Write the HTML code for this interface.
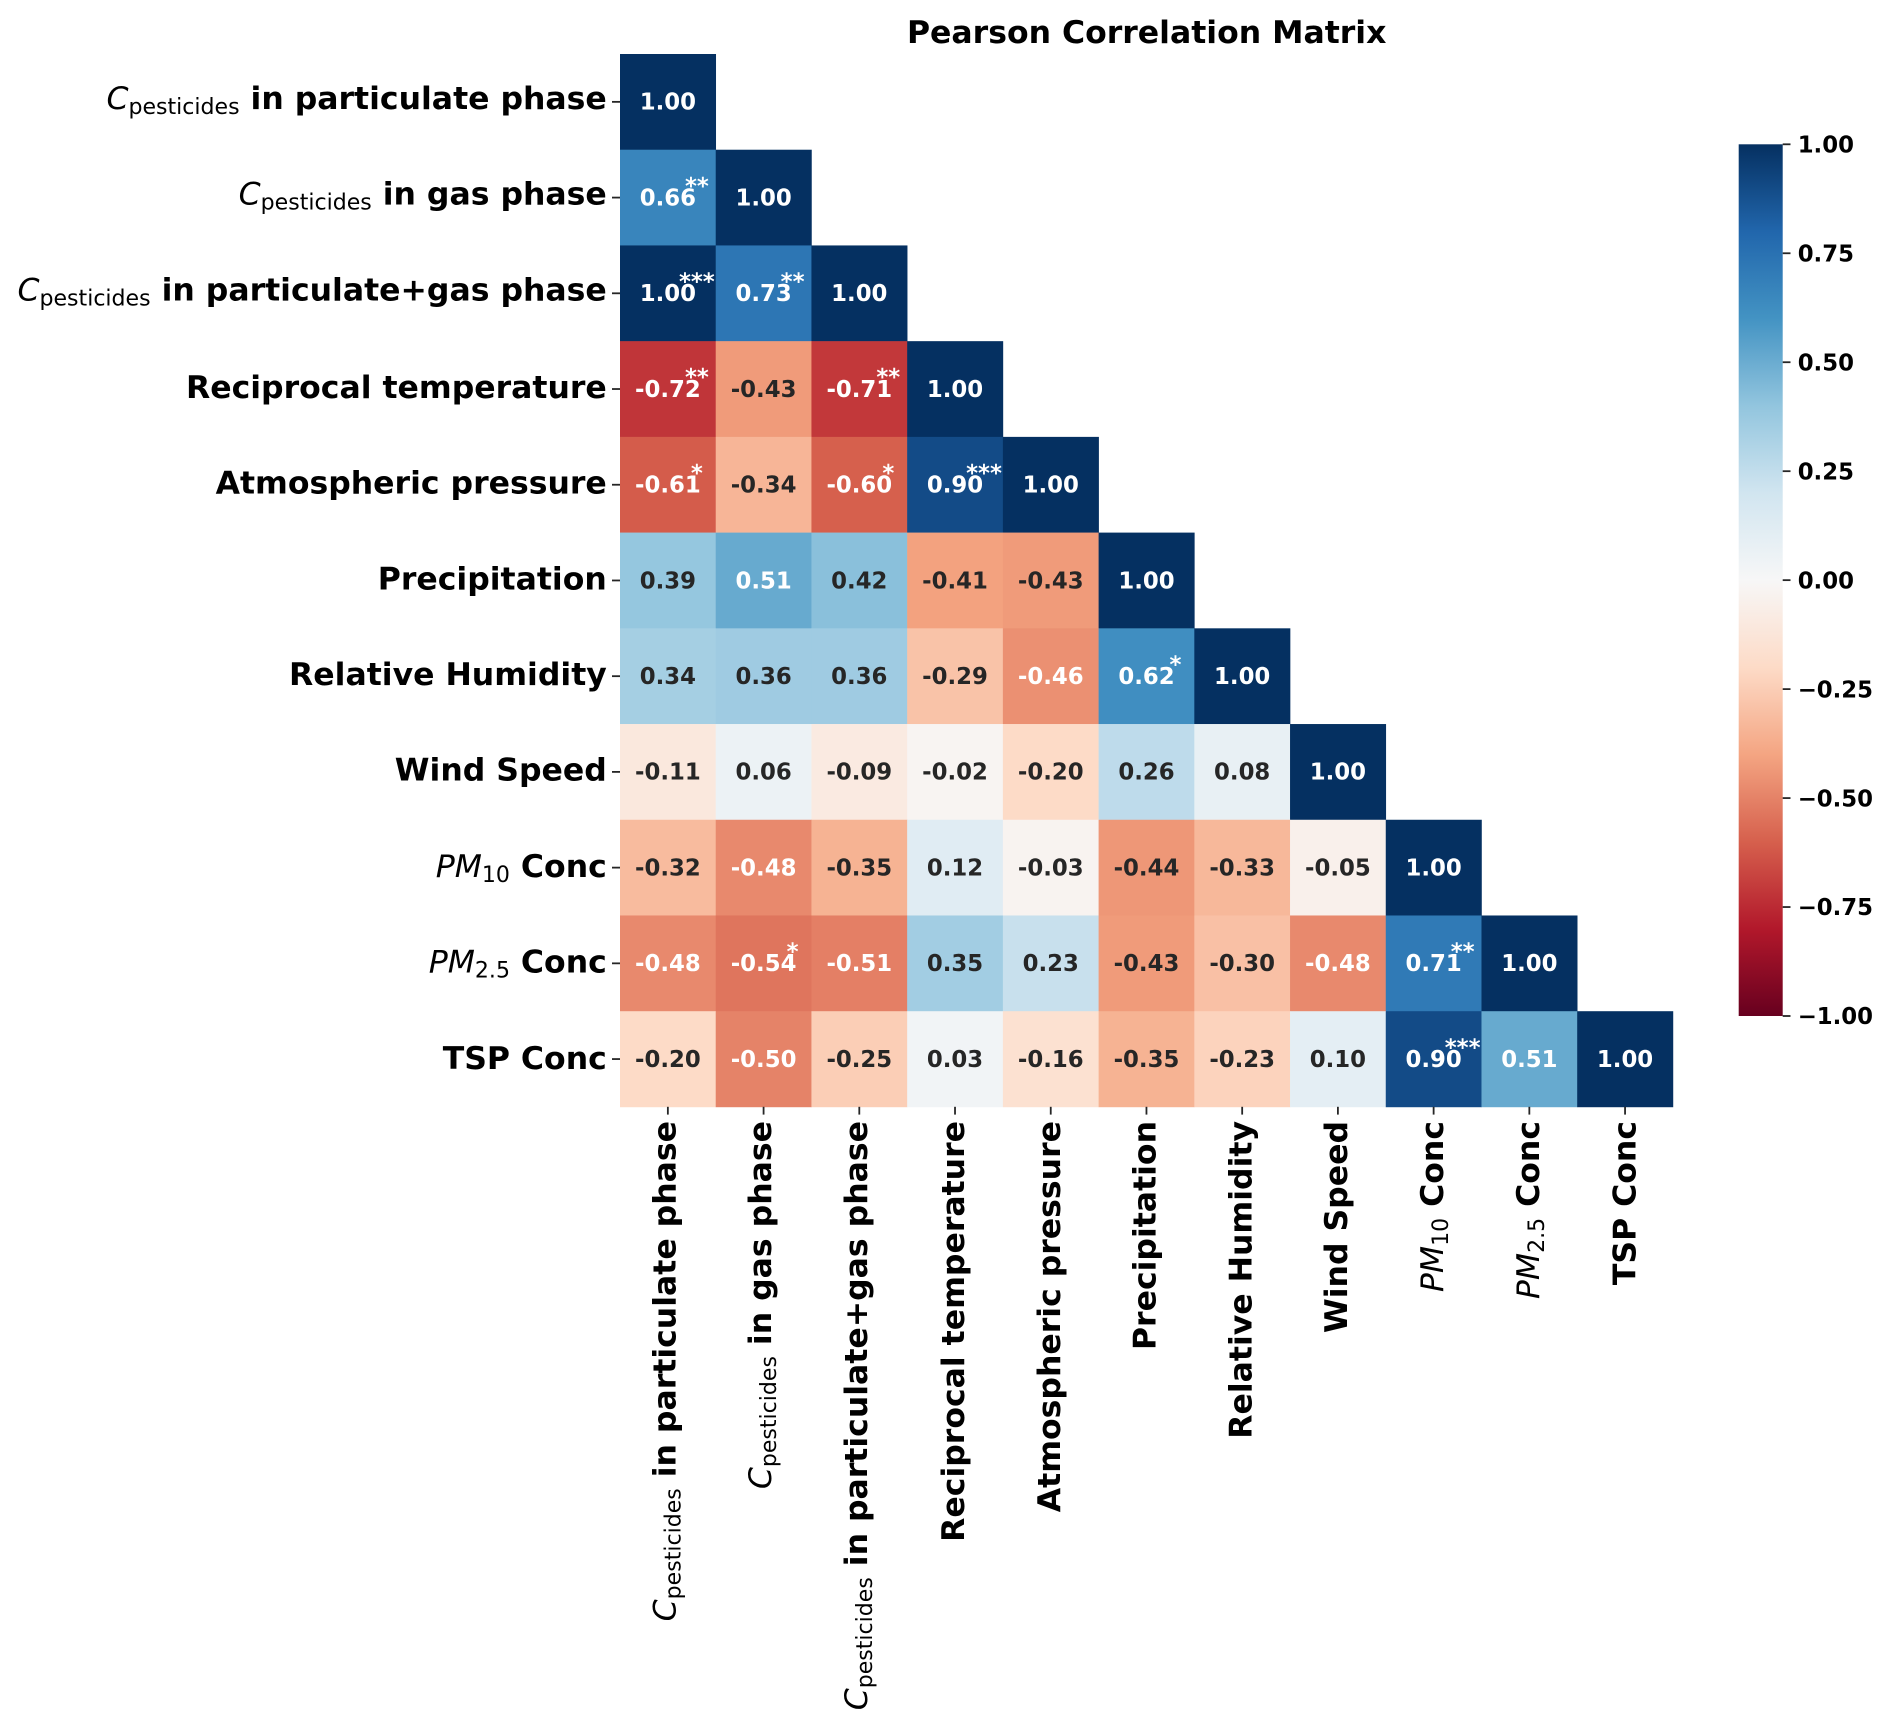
<!DOCTYPE html>
<html lang="en">
<head>
<meta charset="utf-8">
<title>Pearson Correlation Matrix</title>
<style>
html,body{margin:0;padding:0;background:#fff;}
#chart{display:block;width:1892px;height:1728px;background:#fff;}
text{font-family:"DejaVu Sans","Liberation Sans",sans-serif;white-space:pre;}
</style>
</head>
<body>
<svg id="chart" xmlns="http://www.w3.org/2000/svg" width="1892" height="1728" viewBox="0 0 1892 1728">
  <rect x="0" y="0" width="1892" height="1728" fill="#ffffff"/>
  <text x="1146.7" y="43" text-anchor="middle" font-size="31.5" font-weight="700" fill="#000">Pearson Correlation Matrix</text>
  <g id="cells"></g>
  <g id="annotations"></g>
  <g id="y-axis"></g>
  <g id="x-axis"></g>
  <g id="colorbar"></g>
</svg>
<script>
const categories = [
  "C_pesticides in particulate phase",
  "C_pesticides in gas phase",
  "C_pesticides in particulate+gas phase",
  "Reciprocal temperature",
  "Atmospheric pressure",
  "Precipitation",
  "Relative Humidity",
  "Wind Speed",
  "PM_10 Conc",
  "PM_2.5 Conc",
  "TSP Conc"
];
const corrRows = [
  [1.00],
  [0.66, 1.00],
  [1.00, 0.73, 1.00],
  [-0.72, -0.43, -0.71, 1.00],
  [-0.61, -0.34, -0.60, 0.90, 1.00],
  [0.39, 0.51, 0.42, -0.41, -0.43, 1.00],
  [0.34, 0.36, 0.36, -0.29, -0.46, 0.62, 1.00],
  [-0.11, 0.06, -0.09, -0.02, -0.20, 0.26, 0.08, 1.00],
  [-0.32, -0.48, -0.35, 0.12, -0.03, -0.44, -0.33, -0.05, 1.00],
  [-0.48, -0.54, -0.51, 0.35, 0.23, -0.43, -0.30, -0.48, 0.71, 1.00],
  [-0.20, -0.50, -0.25, 0.03, -0.16, -0.35, -0.23, 0.10, 0.90, 0.51, 1.00]
];
const starRows = [
  [""],
  ["**", ""],
  ["***", "**", ""],
  ["**", "", "**", ""],
  ["*", "", "*", "***", ""],
  ["", "", "", "", "", ""],
  ["", "", "", "", "", "*", ""],
  ["", "", "", "", "", "", "", ""],
  ["", "", "", "", "", "", "", "", ""],
  ["", "*", "", "", "", "", "", "", "**", ""],
  ["", "", "", "", "", "", "", "", "***", "", ""]
];
const colorbarTicks = [1.00, 0.75, 0.50, 0.25, 0.00, -0.25, -0.50, -0.75, -1.00];
const rdbuStops = ["#67001f", "#b2182b", "#d6604d", "#f4a582", "#fddbc7", "#f7f7f7", "#d1e5f0", "#92c5de", "#4393c3", "#2166ac", "#053061"];

const SVGNS = "http://www.w3.org/2000/svg";
const plotLeft = 620, plotTop = 54, cellSize = 95.72;
const cbLeft = 1738.7, cbRight = 1782.7, cbTop = 144.3, cbBottom = 1016;
const labelSize = 31.5, annotSize = 22.8;

function make(tag, attrs, parent) {
  const el = document.createElementNS(SVGNS, tag);
  for (const k in attrs) el.setAttribute(k, attrs[k]);
  if (parent) parent.appendChild(el);
  return el;
}
function hexToRgb(h) {
  return [1, 3, 5].map(function (i) { return parseInt(h.substr(i, 2), 16); });
}
function colorOf(v) {
  const t = Math.max(0, Math.min(1, (v + 1) / 2)) * (rdbuStops.length - 1);
  const i = Math.min(Math.floor(t), rdbuStops.length - 2);
  const f = t - i;
  const a = hexToRgb(rdbuStops[i]), b = hexToRgb(rdbuStops[i + 1]);
  return [0, 1, 2].map(function (k) { return a[k] + (b[k] - a[k]) * f; });
}
function luminance(rgb) {
  const c = rgb.map(function (x) {
    const s = x / 255;
    return s <= 0.03928 ? s / 12.92 : Math.pow((s + 0.055) / 1.055, 2.4);
  });
  return 0.2126 * c[0] + 0.7152 * c[1] + 0.0722 * c[2];
}
function cssColor(rgb) {
  return "rgb(" + rgb.map(function (x) { return Math.round(x); }).join(",") + ")";
}
function xPos(col) { return plotLeft + col * cellSize; }
function yPos(row) { return plotTop + row * cellSize; }
function cbY(v) { return cbTop + (1 - v) / 2 * (cbBottom - cbTop); }

function baselineOffset(label) {
  if (label.indexOf("C_") === 0) return 7.1;
  if (label.indexOf("PM_") === 0) return 9.2;
  if (label === "TSP Conc") return 10;
  return 8.8;
}
function fillLabel(textEl, label) {
  const m = label.match(/^(\w+)_(\S+) (.*)$/);
  if (!m) {
    const plain = make("tspan", { "font-weight": "700" }, textEl);
    plain.textContent = label;
    return;
  }
  const main = make("tspan", { "font-style": "oblique", "font-weight": "400" }, textEl);
  main.textContent = m[1];
  const sub = make("tspan", { "font-size": labelSize * 0.7, "font-weight": "400", dy: 5 }, textEl);
  sub.textContent = m[2];
  const rest = make("tspan", { "font-weight": "700", dy: -5 }, textEl);
  rest.textContent = " " + m[3];
}

/* heatmap cells, annotations, significance marks */
const cellsG = document.getElementById("cells");
const annotG = document.getElementById("annotations");
corrRows.forEach(function (rowVals, r) {
  rowVals.forEach(function (v, c) {
    const rgb = colorOf(v);
    const cell = make("rect", { x: xPos(c), y: yPos(r), width: cellSize + 0.3, height: cellSize + 0.3, fill: cssColor(rgb) }, cellsG);
    
    
    const cx = xPos(c) + cellSize / 2, cy = yPos(r) + cellSize / 2;
    const t = make("text", { x: cx, y: cy + 7.8, "text-anchor": "middle", "font-size": annotSize, "font-weight": "700", fill: luminance(rgb) > 0.408 ? "#262626" : "#ffffff" }, annotG);
    t.textContent = v.toFixed(2);
    
    
    const mark = starRows[r][c];
    if (mark) {
      const s = make("text", { x: cx + 29, y: cy - 3.8, "text-anchor": "middle", "font-size": annotSize, "font-weight": "700", fill: "#ffffff" }, annotG);
      s.textContent = mark;
      
      
    }
  });
});

/* axes */
const yAxis = document.getElementById("y-axis");
const xAxis = document.getElementById("x-axis");
categories.forEach(function (label, i) {
  const cy = yPos(i) + cellSize / 2;
  const yTick = make("line", { x1: 612, x2: 620, y1: cy, y2: cy, stroke: "#262626", "stroke-width": 1.8 }, yAxis);
  
  
  const yText = make("text", { x: 606.8, y: cy + baselineOffset(label), "text-anchor": "end", "font-size": labelSize, fill: "#000" }, yAxis);
  
  
  fillLabel(yText, label);

  const cx = xPos(i) + cellSize / 2;
  const xTick = make("line", { x1: cx, x2: cx, y1: 1106.8, y2: 1114.6, stroke: "#262626", "stroke-width": 1.8 }, xAxis);
  
  
  const bx = cx + baselineOffset(label) + 0.4;
  const xText = make("text", { x: 0, y: 0, transform: "translate(" + bx + ",1121) rotate(-90)", "text-anchor": "end", "font-size": labelSize, fill: "#000" }, xAxis);
  
  
  fillLabel(xText, label);
});

/* colorbar */
const cbG = document.getElementById("colorbar");
const defs = make("defs", {}, cbG);
const grad = make("linearGradient", { id: "rdbu-gradient", x1: 0, y1: 1, x2: 0, y2: 0 }, defs);
rdbuStops.forEach(function (col, i) {
  make("stop", { offset: i / (rdbuStops.length - 1), "stop-color": col }, grad);
});
const cbBar = make("rect", { x: cbLeft, y: cbTop, width: cbRight - cbLeft, height: cbBottom - cbTop, fill: "url(#rdbu-gradient)" }, cbG);


colorbarTicks.forEach(function (v) {
  const y = cbY(v);
  const tick = make("line", { x1: cbRight, x2: cbRight + 7.8, y1: y, y2: y, stroke: "#262626", "stroke-width": 1.8 }, cbG);
  
  
  const lab = make("text", { x: 1797.7, y: y + 8.2, "font-size": annotSize, "font-weight": "700", fill: "#000" }, cbG);
  lab.textContent = (v < 0 ? "\u2212" : "") + Math.abs(v).toFixed(2);
  
  
});
</script>
</body>
</html>
